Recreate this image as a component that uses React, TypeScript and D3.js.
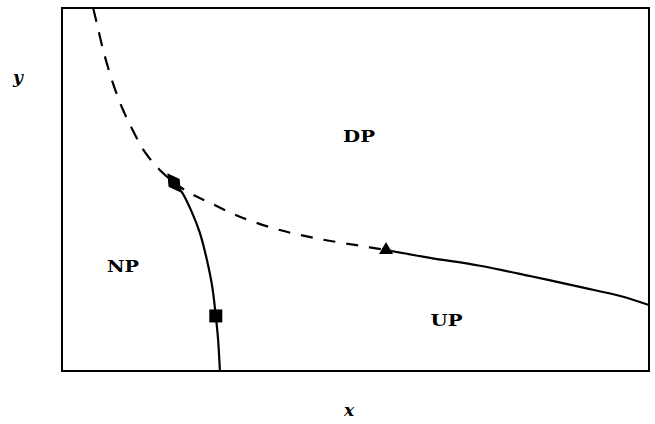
import React from "react";
import * as d3 from "d3";

// Phase boundaries in model units (x: 0..10, y: 0..6)
const upperDashed: [number, number][] = [
  [0.53, 6.0], [0.6, 5.72], [0.7, 5.31], [0.85, 4.81], [1.02, 4.36],
  [1.21, 3.97], [1.41, 3.62], [1.65, 3.34], [1.91, 3.11],
];
const lowerDashed: [number, number][] = [
  [1.91, 3.11], [2.18, 2.94], [2.52, 2.78], [3.03, 2.55], [3.71, 2.33],
  [4.4, 2.18], [5.08, 2.07], [5.52, 2.0],
];
const rightSolid: [number, number][] = [
  [5.52, 2.0], [6.27, 1.87], [7.12, 1.74], [7.97, 1.57], [8.82, 1.39],
  [9.51, 1.24], [10.0, 1.09],
];
const downSolid: [number, number][] = [
  [1.91, 3.11], [2.04, 2.96], [2.21, 2.63], [2.35, 2.28], [2.47, 1.83],
  [2.56, 1.39], [2.62, 0.91], [2.66, 0.51], [2.69, 0.0],
];

const diamondPt: [number, number] = [1.91, 3.11];
const trianglePt: [number, number] = [5.52, 2.0];
const squarePt: [number, number] = [2.62, 0.91];

const regionLabels = ["DP", "NP", "UP"];
const regionPos: [number, number][] = [[5.06, 3.78], [1.04, 1.636], [6.55, 0.744]];

const W = 655;
const H = 424;
const left = 62;
const right = 649;
const top = 8;
const bottom = 371;

export default function App() {
  const x = d3.scaleLinear().domain([0, 10]).range([left, right]);
  const y = d3.scaleLinear().domain([0, 6]).range([bottom, top]);
  const line = d3
    .line<[number, number]>()
    .x((d) => x(d[0]))
    .y((d) => y(d[1]))
    .curve(d3.curveCatmullRom.alpha(0.5));

  const sym = (type: d3.SymbolType, size: number) => d3.symbol().type(type).size(size)() || "";

  return (
    <div style={{ position: "absolute", left: 0, top: 0 }}>
      <svg width={W} height={H} style={{ display: "block", background: "#fff" }}>
        <defs>
          <clipPath id="plot">
            <rect x={left} y={top} width={right - left} height={bottom - top} />
          </clipPath>
        </defs>
        <g clipPath="url(#plot)" fill="none" stroke="#000" strokeWidth={2.2}>
          <path d={line(upperDashed) || ""} strokeDasharray="14,11" />
          <path d={line(lowerDashed) || ""} strokeDasharray="12,11" />
          <path d={line(rightSolid) || ""} />
          <path d={line(downSolid) || ""} />
        </g>
        <rect
          x={left}
          y={top}
          width={right - left}
          height={bottom - top}
          fill="none"
          stroke="#000"
          strokeWidth={2}
        />
        <path
          d={sym(d3.symbolDiamond, 160)}
          transform={`translate(${x(diamondPt[0])},${y(diamondPt[1])}) rotate(-35)`}
          fill="#000"
        />
        <path
          d={sym(d3.symbolTriangle, 85)}
          transform={`translate(${x(trianglePt[0])},${y(trianglePt[1])})`}
          fill="#000"
        />
        <path
          d={sym(d3.symbolSquare, 169)}
          transform={`translate(${x(squarePt[0])},${y(squarePt[1])})`}
          fill="#000"
        />
        {regionLabels.map((t, i) => (
          <text
            key={t}
            x={x(regionPos[i][0]) - 16}
            y={y(regionPos[i][1])}
            textLength={32}
            lengthAdjust="spacingAndGlyphs"
            fontFamily="DejaVu Serif"
            fontWeight="bold"
            fontSize={17}
            fill="#000"
          >
            {t}
          </text>
        ))}
        <text
          x={349}
          y={416}
          textAnchor="middle"
          fontFamily="DejaVu Serif"
          fontWeight="bold"
          fontStyle="italic"
          fontSize={17}
        >
          x
        </text>
        <text
          x={18}
          y={83}
          textAnchor="middle"
          fontFamily="DejaVu Serif"
          fontWeight="bold"
          fontStyle="italic"
          fontSize={17}
        >
          y
        </text>
      </svg>
    </div>
  );
}
